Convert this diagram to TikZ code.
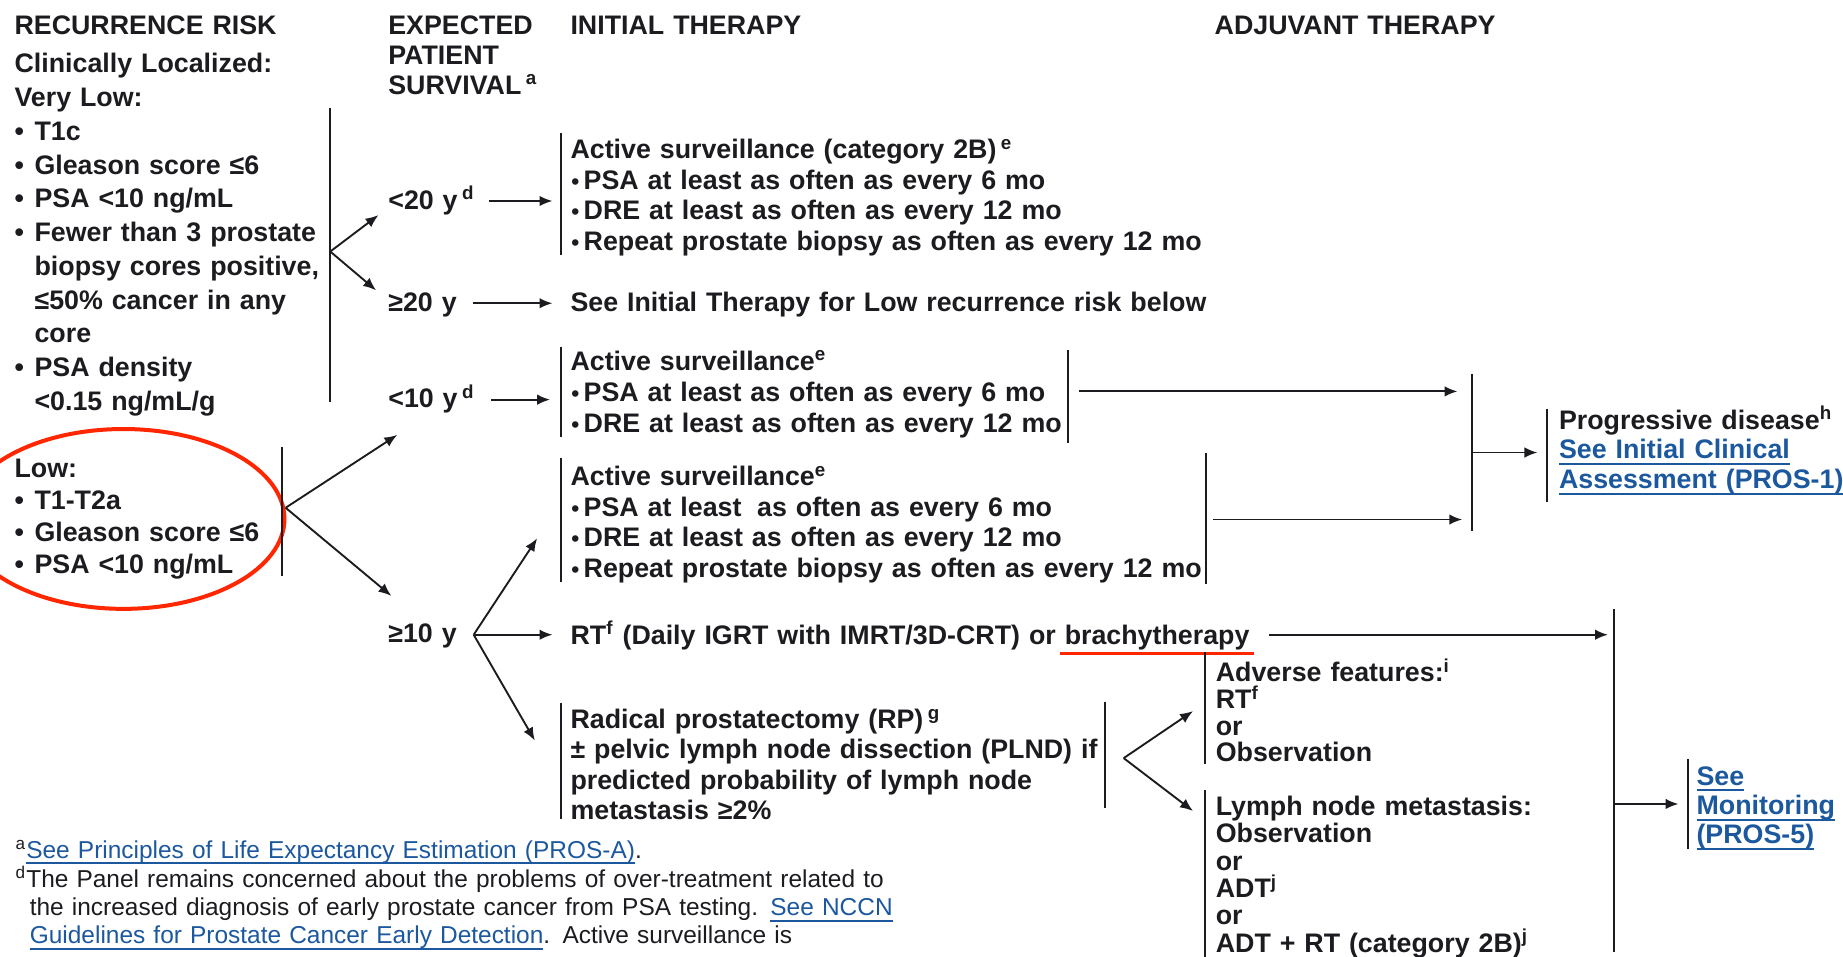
\documentclass[tikz,border=0pt]{standalone}
\usepackage{fontspec}
\setmainfont{Liberation Sans}
\usetikzlibrary{arrows.meta}
\definecolor{ink}{RGB}{28,28,32}
\definecolor{link}{RGB}{28,88,158}
\definecolor{hl}{RGB}{255,38,0}
\lineskiplimit=-30pt
\newcommand{\bodyfnt}[1]{\fontsize{11.4}{#1}\selectfont\bfseries}
\newcommand{\notefnt}[1]{\fontsize{10.4}{#1}\selectfont}
\newcommand{\bulit}[1][8.5pt]{\makebox[#1][l]{•}}
\newcommand{\sbul}{\makebox[5.6pt][l]{\hspace{0.4pt}\scalebox{0.85}{•}}}
\newcommand{\lnk}[1]{\leavevmode{\color{link}\setbox0\hbox{#1}\rlap{\rule[-2.6pt]{\wd0}{0.9pt}}\box0}}
\newcommand{\redul}[1]{\leavevmode\setbox0\hbox{#1}\rlap{\hspace*{-2pt}\textcolor{hl}{\rule[-4.8pt]{\dimexpr\wd0+4pt\relax}{1.6pt}}}\box0}
\newcommand{\sps}[1]{\textsuperscript{#1}}
\tikzset{
 txt/.style={anchor=base west, inner sep=0pt, align=left, text width=300pt, text=ink, font=\bodyfnt{#1}},
 txt/.default=13,
 fn/.style={anchor=base west, inner sep=0pt, align=left, text width=420pt, text=ink, font=\notefnt{#1}},
 fn/.default=12,
 ln/.style={draw=ink, line width=0.8pt},
 arr/.style={ln, -{Latex[length=5.5pt,width=4.5pt]}},
 ring/.style={draw=hl, line width=1.7pt},
}
\begin{document}
\begin{tikzpicture}[x=0.5pt,y=-0.5pt]
\useasboundingbox (0,0) rectangle (1568,814);
\begin{scope}
\clip (0,0) rectangle (1568,814);
% ---------- headings
\node[txt] (hrisk) at (12,29) {RECURRENCE RISK};
\node[txt=12.75] (hsurv) at (330,29) {EXPECTED\\PATIENT\\SURVIVAL\,\sps{a}};
\node[txt] (hinit) at (485,29) {INITIAL THERAPY};
\node[txt] (hadj) at (1033,29) {ADJUVANT THERAPY};
% ---------- recurrence risk
\node[txt=14.35] (vlow) at (12,62) {Clinically Localized:\\Very Low:\\\bulit T1c\\\bulit Gleason score ≤6\\\bulit PSA <10 ng/mL\\\bulit Fewer than 3 prostate\\\hspace*{8.5pt}biopsy cores positive,\\\hspace*{8.5pt}≤50\% cancer in any\\\hspace*{8.5pt}core\\\bulit PSA density\\\hspace*{8.5pt}<0.15 ng/mL/g};
\node[txt=13.67] (low) at (12,406) {Low:\\\bulit T1-T2a\\\bulit Gleason score ≤6\\\bulit PSA <10 ng/mL};
\draw[ring] (105,441.5) ellipse [x radius=137, y radius=76.5];
% ---------- survival
\node[txt] (s20a) at (330,178) {<20 y\,\sps{d}};
\node[txt] (s20b) at (330,265) {≥20 y};
\node[txt] (s10a) at (330,347) {<10 y\,\sps{d}};
\node[txt] (s10b) at (330,547) {≥10 y};
% ---------- initial therapy
\node[txt=13] (as1) at (485,135) {Active surveillance (category 2B)\,\sps{e}\\\sbul PSA at least as often as every 6 mo\\\sbul DRE at least as often as every 12 mo\\\sbul Repeat prostate biopsy as often as every 12 mo};
\node[txt] (seelow) at (485,265) {See Initial Therapy for Low recurrence risk below};
\node[txt=13.25] (as2) at (485,315) {Active surveillance\sps{e}\\\sbul PSA at least as often as every 6 mo\\\sbul DRE at least as often as every 12 mo};
\node[txt=13] (as3) at (485,413) {Active surveillance\sps{e}\\\sbul PSA at least\hspace{0.25em} as often as every 6 mo\\\sbul DRE at least as often as every 12 mo\\\sbul Repeat prostate biopsy as often as every 12 mo};
\node[txt] (rt) at (485,548) {RT\sps{f} (Daily IGRT with IMRT/3D-CRT) or \redul{brachytherapy}};
\node[txt=12.83] (rp) at (485,620) {Radical prostatectomy (RP)\,\sps{g}\\± pelvic lymph node dissection (PLND) if\\predicted probability of lymph node\\metastasis ≥2\%};
% ---------- adjuvant
\node[txt=11.33] (adv) at (1034,580) {Adverse features:\sps{i}\\RT\sps{f}\\or\\Observation};
\node[txt=11.6] (lym) at (1034,694) {Lymph node metastasis:\\Observation\\or\\ADT\sps{j}\\or\\ADT + RT (category 2B)\sps{j}};
\node[txt=12.75] (pd) at (1326,365) {Progressive disease\sps{h}\\\lnk{See Initial Clinical}\\\lnk{Assessment (PROS-1)}};
\node[txt=12.5] (mon) at (1443,668) {\lnk{See}\\\lnk{Monitoring}\\\lnk{(PROS-5)}};
% ---------- footnotes
\node[fn] (fa) at (22,730) {\llap{\sps{a}}\lnk{See Principles of Life Expectancy Estimation (PROS-A)}.};
\node[fn] (fd) at (22,755) {\llap{\sps{d}}The Panel remains concerned about the problems of over-treatment related to\\\hspace*{1.5pt}the increased diagnosis of early prostate cancer from PSA testing. \lnk{See NCCN}\\\hspace*{1.5pt}\lnk{Guidelines for Prostate Cancer Early Detection}. Active surveillance is};
% ---------- brackets and collector lines
\draw[ln] (281,92) -- (281,342);
\draw[ln] (240,380) -- (240,490);
\draw[ln] (477,113) -- (477,217);
\draw[ln] (477,295) -- (477,372);
\draw[ln] (909,298) -- (909,377);
\draw[ln] (477,390) -- (477,495);
\draw[ln] (1026,385) -- (1026,497);
\draw[ln] (477,598) -- (477,697);
\draw[ln] (940,597) -- (940,687);
\draw[ln] (1025,555) -- (1025,650);
\draw[ln] (1025,672) -- (1025,820);
\draw[ln] (1252,318) -- (1252,452);
\draw[ln] (1316,348) -- (1316,427);
\draw[ln] (1373,518) -- (1373,810);
\draw[ln] (1436,646) -- (1436,722);
% ---------- connector end points
\coordinate (fvl) at (281,214);
\coordinate (t20a) at (322,183);
\coordinate (t20b) at (320,247);
\coordinate (o20a) at (416,171);
\coordinate (i20a) at (470,171);
\coordinate (o20b) at (402,258);
\coordinate (i20b) at (470,258);
\coordinate (o10a) at (418,340);
\coordinate (i10a) at (468,340);
\coordinate (flow) at (243,432);
\coordinate (t10a) at (338,370);
\coordinate (t10b) at (333,507);
\coordinate (f10) at (403,540);
\coordinate (ias3) at (457,458);
\coordinate (irt) at (470,540);
\coordinate (irp) at (455,630);
\coordinate (oas2) at (918,333);
\coordinate (cpd1) at (1240,333);
\coordinate (oas3) at (1032,442);
\coordinate (cpd2) at (1244,442);
\coordinate (opd) at (1252,385);
\coordinate (ipd) at (1308,385);
\coordinate (ort) at (1080,540);
\coordinate (cmon) at (1368,540);
\coordinate (frp) at (956,645);
\coordinate (iadv) at (1015,605);
\coordinate (ilym) at (1015,690);
\coordinate (omon) at (1373,684);
\coordinate (imon) at (1428,684);
% ---------- arrows
\draw[arr] (fvl) -- (t20a);
\draw[arr] (fvl) -- (t20b);
\draw[arr] (o20a) -- (i20a);
\draw[arr] (o20b) -- (i20b);
\draw[arr] (o10a) -- (i10a);
\draw[arr] (flow) -- (t10a);
\draw[arr] (flow) -- (t10b);
\draw[arr] (f10) -- (ias3);
\draw[arr] (f10) -- (irt);
\draw[arr] (f10) -- (irp);
\draw[arr] (oas2) -- (cpd1);
\draw[arr] (oas3) -- (cpd2);
\draw[arr] (opd) -- (ipd);
\draw[arr] (ort) -- (cmon);
\draw[arr] (frp) -- (iadv);
\draw[arr] (frp) -- (ilym);
\draw[arr] (omon) -- (imon);
\end{scope}
\end{tikzpicture}
\end{document}
